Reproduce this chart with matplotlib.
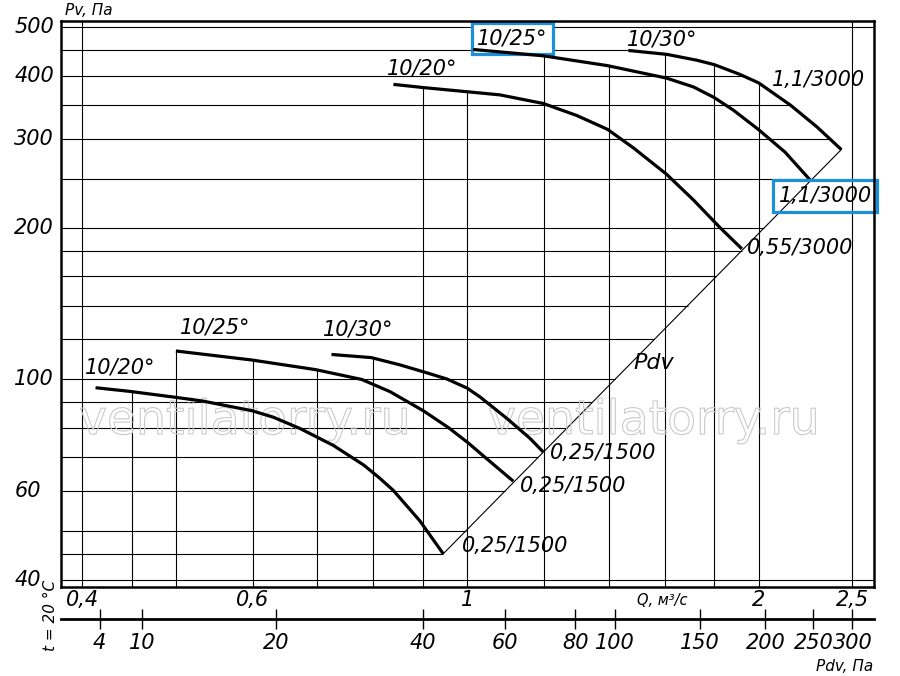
import numpy as np
import matplotlib
matplotlib.use("Agg")
import matplotlib.pyplot as plt
import matplotlib.transforms as mtransforms
import matplotlib.patheffects as pe
from matplotlib import font_manager as fm
from matplotlib.ticker import NullLocator

# --- характеристики: Q, м3/с -> Pv, Па ---
# 0,25 кВт / 1500 об/мин
q_low_20 = [0.413, 0.448, 0.501, 0.533, 0.599, 0.630, 0.672, 0.727, 0.782, 0.812, 0.839, 0.8935, 0.9215, 0.9445]
p_low_20 = [96.2, 94.6, 92.0, 90.5, 86.6, 84.1, 79.8, 73.9, 67.5, 63.6, 60.1, 52.3, 48.1, 45.0]
q_low_25 = [0.500, 0.599, 0.697, 0.778, 0.832, 0.9005, 0.9558, 1.0, 1.043, 1.116]
p_low_25 = [113.8, 109.2, 104.5, 99.9, 94.5, 86.6, 80.2, 75.0, 70.0, 62.7]
q_low_30 = [0.724, 0.796, 0.852, 0.908, 0.953, 1.0, 1.031, 1.066, 1.102, 1.161, 1.198]
p_low_30 = [112.0, 110.4, 106.8, 103.0, 100.1, 96.0, 92.2, 87.6, 83.2, 76.3, 71.7]
# 3000 об/мин
q_up_20 = [0.839, 0.901, 0.999, 1.081, 1.198, 1.297, 1.396, 1.485, 1.606, 1.713, 1.825, 1.922]
p_up_20 = [385.3, 379.7, 372.6, 367.2, 353.1, 334.3, 313.7, 288.1, 255.6, 227.0, 200.0, 181.6]
q_up_25 = [1.014, 1.198, 1.396, 1.606, 1.713, 1.799, 1.884, 1.998, 2.130, 2.264]
p_up_25 = [452.0, 439.1, 419.8, 396.6, 380.8, 362.9, 342.3, 313.7, 282.6, 248.0]
q_up_30 = [1.467, 1.608, 1.727, 1.800, 1.914, 2.000, 2.157, 2.298, 2.435]
p_up_30 = [450.0, 442.0, 430.3, 421.7, 403.1, 388.0, 350.5, 317.1, 286.0]

curves = [(q_low_20, p_low_20), (q_low_25, p_low_25), (q_low_30, p_low_30),
          (q_up_20, p_up_20), (q_up_25, p_up_25), (q_up_30, p_up_30)]

# сетка и шкалы
q_grid = [0.4, 0.45, 0.5, 0.6, 0.7, 0.8, 0.9, 1.0, 1.2, 1.4, 1.6, 1.8, 2.0, 2.5]
p_grid = [40, 45, 50, 60, 70, 80, 90, 100, 120, 140, 160, 180, 200, 250, 300, 350, 400, 450, 500]
q_ticks = [0.4, 0.6, 1, 2, 2.5]
q_tick_labels = ['0,4', '0,6', '1', '2', '2,5']
p_ticks = [40, 60, 100, 200, 300, 400, 500]
pdv_ticks = [4, 10, 20, 40, 60, 80, 100, 150, 200, 250, 300]
pdv_tick_q = [0.417, 0.461, 0.635, 0.9, 1.093, 1.293, 1.42, 1.738, 2.033, 2.279, 2.5]


def italic_family():
    # первый шрифт, у которого реально есть курсив
    for fam in ['DejaVu Sans', 'Noto Sans', 'Open Sans', 'Liberation Sans', 'Lato', 'Roboto']:
        try:
            path = fm.findfont(fm.FontProperties(family=fam, style='italic'),
                               fallback_to_default=False)
        except ValueError:
            continue
        name = path.lower()
        if 'italic' in name or 'oblique' in name:
            return fam
    return 'DejaVu Sans'


fam = italic_family()
plt.rcParams['font.family'] = [fam, 'DejaVu Sans']
plt.rcParams['font.style'] = 'italic'
fs = 15 if fam == 'DejaVu Sans' else 16
fs_small = 11 if fam == 'DejaVu Sans' else 12


def loglog_interp(x, xs, ys):
    lx, lxs, lys = np.log10(x), np.log10(xs), np.log10(ys)
    order = np.argsort(lxs)
    lxs, lys = lxs[order], lys[order]
    if lx < lxs[0] - 1e-12 or lx > lxs[-1] + 1e-12:
        return None
    return 10 ** np.interp(lx, lxs, lys)


fig = plt.figure(figsize=(9, 6.76), dpi=100)
ax = fig.add_axes([0.068, 0.132, 0.9035, 0.837])
ax.set_xscale('log')
ax.set_yscale('log')
ax.set_xlim(0.3806, 2.634)
ax.set_ylim(38.7, 515)
xmin, xmax = ax.get_xlim()
ymin, ymax = ax.get_ylim()

# вертикальные линии сетки - до верхней кривой
for q in q_grid:
    tops = [v for v in (loglog_interp(q, cq, cp) for cq, cp in curves) if v is not None]
    top = max(tops) if tops else ymax
    ax.vlines(q, ymin, top, color='black', lw=0.8, zorder=1)

# горизонтальные линии - до линии Pdv / внешней кривой
edge_q = [q_low_20[-1]] + q_up_30[::-1]
edge_p = [p_low_20[-1]] + p_up_30[::-1]
for p in p_grid:
    x_end = loglog_interp(p, edge_p, edge_q)
    ax.hlines(p, xmin, x_end if x_end is not None else xmax, color='black', lw=0.8, zorder=1)

# линия Pdv
ax.plot([q_low_20[-1], q_up_30[-1]], [p_low_20[-1], p_up_30[-1]], color='black', lw=0.8, zorder=2)

for cq, cp in curves:
    ax.plot(cq, cp, color='black', lw=2.3, solid_capstyle='butt', solid_joinstyle='round', zorder=3)

# подписи кривых
box_col = '#1c8fdb'
ax.text(0.4025, 105.3, '10/20°', fontsize=fs, va='center')
ax.text(0.5045, 126.5, '10/25°', fontsize=fs, va='center')
ax.text(0.709, 125.4, '10/30°', fontsize=fs, va='center')
ax.text(0.8253, 414.6, '10/20°', fontsize=fs, va='center')
ax.text(1.024, 476.0, '10/25°', fontsize=fs, va='center', zorder=2.5,
        bbox=dict(boxstyle='square,pad=0.27', fc='white', ec=box_col, lw=2.3))
ax.text(1.462, 473.8, '10/30°', fontsize=fs, va='center')
ax.text(2.064, 392.4, '1,1/3000', fontsize=fs, va='center')
ax.text(2.097, 231.3, '1,1/3000', fontsize=fs, va='center',
        bbox=dict(boxstyle='square,pad=0.28', fc='none', ec=box_col, lw=2.3))
ax.text(1.945, 182.3, '0,55/3000', fontsize=fs, va='center')
ax.text(1.485, 107.6, 'Pdv', fontsize=fs + 1, va='center')
ax.text(1.218, 71.5, '0,25/1500', fontsize=fs, va='center')
ax.text(1.134, 61.3, '0,25/1500', fontsize=fs, va='center')
ax.text(0.9868, 46.7, '0,25/1500', fontsize=fs, va='center')

# водяные знаки
for xc in (0.226, 0.729):
    ax.text(xc, 0.27, 'ventilatorry.ru', transform=ax.transAxes, ha='center', va='baseline',
            fontsize=34, family='DejaVu Sans', style='normal', color='none', zorder=2,
            path_effects=[pe.Stroke(linewidth=0.8, foreground='#cacaca')])

# оси
for s in ax.spines.values():
    s.set_linewidth(1.8)
    s.set_zorder(5)
ax.set_xticks(q_ticks, labels=q_tick_labels)
ax.xaxis.set_minor_locator(NullLocator())
ax.tick_params(axis='x', length=0, pad=2.5, labelsize=fs)
ax.set_yticks([])
ax.yaxis.set_minor_locator(NullLocator())
ytrans = mtransforms.blended_transform_factory(ax.transAxes, ax.transData)
for p in p_ticks:
    ax.text(-0.0578, p, str(p), transform=ytrans, ha='left', va='center', fontsize=fs)
ax.text(0.739, -0.025, 'Q, м³/с', transform=ax.transAxes, ha='center', va='center', fontsize=fs_small - 0.5)

# шкала Pdv
axb = fig.add_axes([0.068, 1 - 618.7 / 676, 0.9035, 0.0001])
axb.set_xscale('log')
axb.set_xlim(xmin, xmax)
axb.patch.set_visible(False)
for s in ['top', 'left', 'right']:
    axb.spines[s].set_visible(False)
axb.spines['bottom'].set_linewidth(2)
axb.set_yticks([])
axb.set_xticks(pdv_tick_q, labels=[str(v) for v in pdv_ticks])
axb.xaxis.set_minor_locator(NullLocator())
axb.tick_params(axis='x', direction='inout', length=15, width=1, pad=3, labelsize=fs)

fig.text(0.072, 0.985, 'Pv, Па', ha='left', va='center', fontsize=fs_small)
fig.text(0.97, 0.0138, 'Pdv, Па', ha='right', va='center', fontsize=fs_small)
fig.text(0.0556, 0.0895, 't = 20 °C', rotation=90, ha='center', va='center', fontsize=fs_small)

fig.savefig('out.png', dpi=100)
